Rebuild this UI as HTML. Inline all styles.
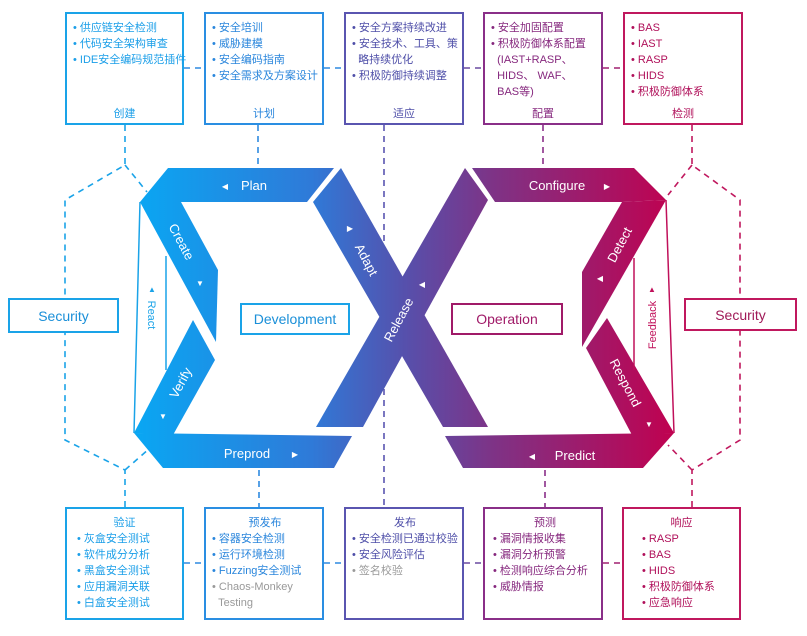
<!DOCTYPE html>
<html><head><meta charset="utf-8"><style>
body{margin:0;background:#fff;width:807px;height:636px;overflow:hidden;position:relative;font-family:"Liberation Sans","Noto Sans CJK SC",sans-serif}
.b{position:absolute;box-sizing:border-box;border:2px solid;background:#fff;font-size:11px;line-height:16px;padding:6px 4px 0 6px}
.b div{white-space:nowrap}
.t{position:absolute;left:0;right:0;text-align:center}
.g{color:#999}
</style></head><body>
<svg width="807" height="636" style="position:absolute;left:0;top:0">
<defs><linearGradient id="gr" x1="130" x2="680" y1="0" y2="0" gradientUnits="userSpaceOnUse">
<stop offset="0" stop-color="#08a8f4"/><stop offset="0.33" stop-color="#2f7ad8"/><stop offset="0.5" stop-color="#5650ac"/><stop offset="0.66" stop-color="#7e3386"/><stop offset="1" stop-color="#c2004e"/></linearGradient></defs>
<g fill="none" stroke-width="1.6" stroke-dasharray="6,5">
<path d="M125 125V165L65 200V298M125 165L147 192" stroke="#1aa3e8"/>
<path d="M125 507V470L65 440V333M125 470L150 448" stroke="#1aa3e8"/>
<path d="M258 125V168M259 470V507" stroke="#2f8ae0"/>
<path d="M384 125V507" stroke="#5a55b0"/>
<path d="M543 125V168M545 470V507" stroke="#8a2f88"/>
<path d="M692 125V165L740 200V298M692 165L668 195" stroke="#c0185e"/>
<path d="M692 507V470L740 440V331M692 470L668 445" stroke="#c0185e"/>
<path d="M184 68H204M324 68H344" stroke="#2f8ae0"/><path d="M464 68H483" stroke="#6a4aa0"/><path d="M603 68H623" stroke="#a02070"/>
<path d="M184 563H204M324 563H344" stroke="#2f8ae0"/><path d="M464 563H483" stroke="#6a4aa0"/><path d="M603 563H622" stroke="#a02070"/>
</g>
<g fill="url(#gr)">
<polygon points="168,168 334,168 307,202 181,202 140,202"/>
<polygon points="140,202 181,202 218,270 216,342"/>
<polygon points="193,320 215,360 173,435 134,433"/>
<polygon points="134,433 352,436 334,468 163,468"/>
<polygon points="313,202 341,168 488,427 443,427"/>
<polygon points="465,168 488,200 363,427 316,427"/>
<polygon points="472,168 634,168 666,200 622,202 495,202"/>
<polygon points="666,200 622,202 582,272 582,347"/>
<polygon points="586,348 607,318 674,433 632,435"/>
<polygon points="445,436 674,433 643,468 463,468"/>
</g>
<g stroke-width="1.5" fill="none">
<path d="M140 202L134 433M166 256V370" stroke="#1aa3e8"/>
<path d="M666 200L674 433M634 258V370" stroke="#c0105a"/>
</g>
<g fill="#fff" font-family="Liberation Sans,sans-serif" font-size="13">
<text x="254" y="190" text-anchor="middle">Plan</text><text x="225" y="189" font-size="8" text-anchor="middle">◀</text>
<text x="247" y="458" text-anchor="middle">Preprod</text><text x="295" y="457" font-size="8" text-anchor="middle">▶</text>
<text x="557" y="190" text-anchor="middle">Configure</text><text x="607" y="189" font-size="8" text-anchor="middle">▶</text>
<text x="575" y="460" text-anchor="middle">Predict</text><text x="532" y="459" font-size="8" text-anchor="middle">◀</text>
<text transform="translate(181,242) rotate(62)" text-anchor="middle" y="4">Create</text>
<text transform="translate(181,383) rotate(-62)" text-anchor="middle" y="4">Verify</text>
<text transform="translate(366,260) rotate(62)" text-anchor="middle" y="4">Adapt</text>
<text transform="translate(399,320) rotate(-62)" text-anchor="middle" y="4">Release</text>
<text transform="translate(620,245) rotate(-62)" text-anchor="middle" y="4">Detect</text>
<text transform="translate(625,383) rotate(62)" text-anchor="middle" y="4">Respond</text>
<text x="200" y="286" font-size="8" text-anchor="middle">▼</text>
<text x="350" y="231" font-size="8" text-anchor="middle">▶</text>
<text x="422" y="287" font-size="8" text-anchor="middle">◀</text>
<text x="600" y="281" font-size="8" text-anchor="middle">◀</text>
<text x="649" y="427" font-size="8" text-anchor="middle">▼</text>
<text x="163" y="419" font-size="8" text-anchor="middle">▼</text>
</g>
<text transform="translate(152,315) rotate(90)" text-anchor="middle" y="4" font-size="11" fill="#1aa3e8" font-family="Liberation Sans,sans-serif">React</text>
<text x="152" y="292" font-size="8" fill="#1aa3e8" text-anchor="middle">▲</text>
<text transform="translate(652,325) rotate(-90)" text-anchor="middle" y="4" font-size="11" fill="#c0105a" font-family="Liberation Sans,sans-serif">Feedback</text>
<text x="652" y="292" font-size="8" fill="#c0105a" text-anchor="middle">▲</text>
</svg>
<div class="b" style="left:240px;top:303px;width:110px;height:32px;border-color:#1aa3e8;color:#1a8fd8;font-size:14px;text-align:center;padding:6px 0">Development</div>
<div class="b" style="left:451px;top:303px;width:112px;height:32px;border-color:#a01a68;color:#a01a68;font-size:14px;text-align:center;padding:6px 0">Operation</div>
<div class="b" style="left:8px;top:298px;width:111px;height:35px;border-color:#1aa3e8;color:#1a8fd8;font-size:14px;text-align:center;padding:8px 0">Security</div>
<div class="b" style="left:684px;top:298px;width:113px;height:33px;border-color:#c0185e;color:#a01a58;font-size:14px;text-align:center;padding:7px 0">Security</div>

<div class="b" style="left:65px;top:12px;width:119px;height:113px;border-color:#1aa3e8;color:#1a9ee8"><div>• 供应链安全检测</div><div>• 代码安全架构审查</div><div>• IDE安全编码规范插件</div><div class="t" style="top:92px">创建</div></div>
<div class="b" style="left:204px;top:12px;width:120px;height:113px;border-color:#2a8ee2;color:#2a86dc"><div>• 安全培训</div><div>• 威胁建模</div><div>• 安全编码指南</div><div>• 安全需求及方案设计</div><div class="t" style="top:92px">计划</div></div>
<div class="b" style="left:344px;top:12px;width:120px;height:113px;border-color:#5a55b0;color:#4e4ea8"><div>• 安全方案持续改进</div><div>• 安全技术、工具、策</div><div>&nbsp;&nbsp;略持续优化</div><div>• 积极防御持续调整</div><div class="t" style="top:92px">适应</div></div>
<div class="b" style="left:483px;top:12px;width:120px;height:113px;border-color:#8a2f88;color:#86287e"><div>• 安全加固配置</div><div>• 积极防御体系配置</div><div>&nbsp;&nbsp;(IAST+RASP、</div><div>&nbsp;&nbsp;HIDS、 WAF、</div><div>&nbsp;&nbsp;BAS等)</div><div class="t" style="top:92px">配置</div></div>
<div class="b" style="left:623px;top:12px;width:120px;height:113px;border-color:#c0185e;color:#b0105a"><div>• BAS</div><div>• IAST</div><div>• RASP</div><div>• HIDS</div><div>• 积极防御体系</div><div class="t" style="top:92px">检测</div></div>

<div class="b" style="left:65px;top:507px;width:119px;height:113px;border-color:#1aa3e8;color:#1a9ee8;padding-left:10px"><div style="text-align:center;margin-right:6px">验证</div><div>• 灰盒安全测试</div><div>• 软件成分分析</div><div>• 黑盒安全测试</div><div>• 应用漏洞关联</div><div>• 白盒安全测试</div></div>
<div class="b" style="left:204px;top:507px;width:120px;height:113px;border-color:#2a8ee2;color:#2a86dc"><div style="text-align:center">预发布</div><div>• 容器安全检测</div><div>• 运行环境检测</div><div>• Fuzzing安全测试</div><div class="g">• Chaos-Monkey</div><div class="g">&nbsp;&nbsp;Testing</div></div>
<div class="b" style="left:344px;top:507px;width:120px;height:113px;border-color:#5a55b0;color:#4e4ea8"><div style="text-align:center">发布</div><div>• 安全检测已通过校验</div><div>• 安全风险评估</div><div class="g">• 签名校验</div></div>
<div class="b" style="left:483px;top:507px;width:120px;height:113px;border-color:#8a2f88;color:#86287e;padding-left:8px"><div style="text-align:center">预测</div><div>• 漏洞情报收集</div><div>• 漏洞分析预警</div><div>• 检测响应综合分析</div><div>• 威胁情报</div></div>
<div class="b" style="left:622px;top:507px;width:119px;height:113px;border-color:#c0185e;color:#b0105a;padding-left:18px"><div style="text-align:center;margin-right:14px">响应</div><div>• RASP</div><div>• BAS</div><div>• HIDS</div><div>• 积极防御体系</div><div>• 应急响应</div></div>
</body></html>
